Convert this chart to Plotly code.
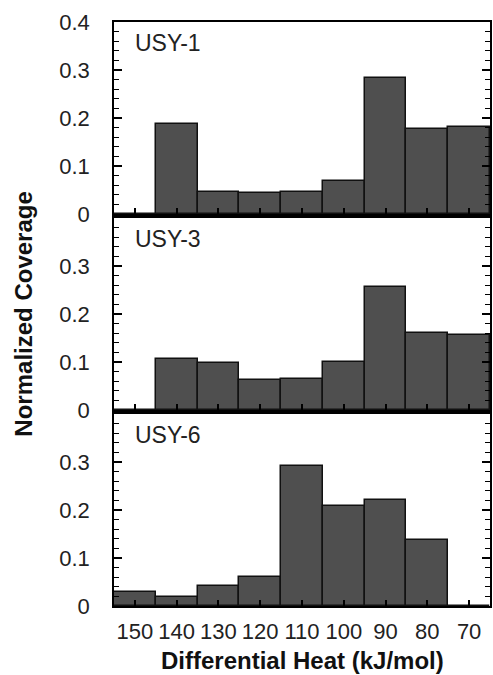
import plotly.graph_objects as go

heat = [150, 140, 130, 120, 110, 100, 90, 80, 70]
usy1 = [0.0, 0.187, 0.046, 0.044, 0.046, 0.069, 0.284, 0.178, 0.182]
usy3 = [0.0, 0.106, 0.097, 0.063, 0.064, 0.100, 0.257, 0.161, 0.156]
usy6 = [0.030, 0.019, 0.042, 0.061, 0.292, 0.209, 0.221, 0.137, 0.0]
labels = ["USY-1", "USY-3", "USY-6"]
x_ticks = [150, 140, 130, 120, 110, 100, 90, 80, 70]

series = [usy1, usy3, usy6]
domains = [[0.6712, 1.0], [0.3356, 0.6644], [0.0, 0.3288]]

FONT = "Liberation Sans, Arial, Helvetica, sans-serif"
fig = go.Figure()

for i, (vals, lab) in enumerate(zip(series, labels)):
    n = "" if i == 0 else str(i + 1)
    fig.add_trace(go.Bar(
        x=heat, y=vals, width=10,
        marker=dict(color="#4f4f4f", line=dict(color="#111111", width=1.5)),
        xaxis="x" + n, yaxis="y" + n, showlegend=False,
    ))
    top = 0.4 if i == 0 else 0.3999
    fig.update_layout({
        "yaxis" + n: dict(
            domain=domains[i], range=[0, top], anchor="x" + n,
            tickmode="linear", tick0=0, dtick=0.1, tickformat=".1f",
            ticks="inside", ticklen=8, tickwidth=1.5, tickcolor="black",
            minor=dict(dtick=0.02, ticks="inside", ticklen=5,
                       tickwidth=1.2, tickcolor="black", showgrid=False),
            showline=True, linecolor="black", linewidth=1.5, mirror="ticks",
            showgrid=False, zeroline=False,
            tickfont=dict(family=FONT, size=22, color="#222"),
            ticklabelstandoff=18,
            labelalias={"0.0": "0"},
        ),
        "xaxis" + n: dict(
            range=[155, 65], anchor="y" + n,
            tickmode="array", tickvals=x_ticks,
            ticktext=[str(v) for v in x_ticks],
            showticklabels=(i == 2), tickangle=0,
            ticks="inside", ticklen=6, tickwidth=1.5, tickcolor="black",
            showline=True, linecolor="black", linewidth=1.5, mirror=True,
            showgrid=False, zeroline=False,
            tickfont=dict(family=FONT, size=22, color="#222"),
            ticklabelstandoff=5,
        ),
    })
    fig.add_annotation(
        text=lab, xref=("x" + n + " domain"), yref=("y" + n + " domain"),
        x=0.05, y=0.89, xanchor="left", yanchor="middle", showarrow=False,
        font=dict(family=FONT, size=23, color="#222"),
    )

fig.add_annotation(
    text="<b>Differential Heat (kJ/mol)</b>", xref="paper", yref="paper",
    x=0.5, y=-0.094, xanchor="center", yanchor="middle", showarrow=False,
    font=dict(family=FONT, size=24, color="#111"),
)
fig.add_annotation(
    text="<b>Normalized Coverage</b>", xref="paper", yref="paper",
    x=-0.243, y=0.50, xanchor="center", yanchor="middle", showarrow=False,
    textangle=-90, font=dict(family=FONT, size=24, color="#111"),
)

fig.update_layout(
    width=493, height=675,
    margin=dict(l=114, r=1, t=22, b=69),
    paper_bgcolor="white", plot_bgcolor="rgba(0,0,0,0)",
    bargap=0,
)
fig.update_traces(cliponaxis=False)
fig.write_html("out.html")
